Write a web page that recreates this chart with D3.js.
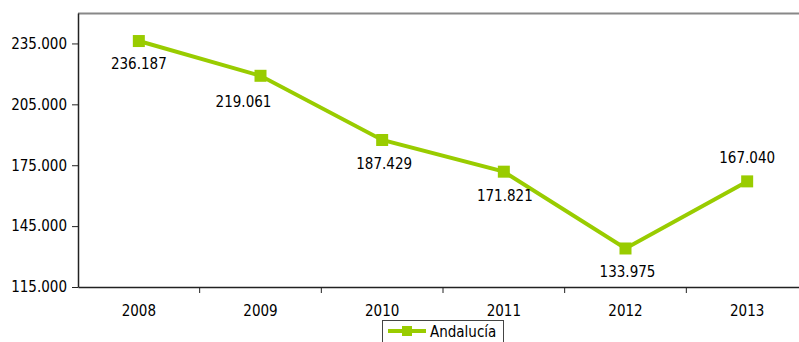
<!DOCTYPE html>
<html>
<head>
<meta charset="utf-8">
<script src="https://cdn.jsdelivr.net/npm/d3@7"></script>
<style>
  body { margin: 0; background: #fff; }
  svg { display: block; font-family: "DejaVu Sans Condensed", "DejaVu Sans", sans-serif; }
</style>
</head>
<body>
<svg id="chart" width="799" height="342"></svg>
<script>
// Data
const years = ["2008", "2009", "2010", "2011", "2012", "2013"];
const values = [236187, 219061, 187429, 171821, 133975, 167040];
const valueLabels = ["236.187", "219.061", "187.429", "171.821", "133.975", "167.040"];
const yTicks = [115000, 145000, 175000, 205000, 235000];
const seriesName = "Andalucía";

// Label placement (offsets from each point)
const labelDx = [0, -17, 2, 1, 2, 0];
const labelDy = [28, 31, 29, 29, 29, -18];

const color = "#99cc00";
const font = "DejaVu Sans Condensed";
const fontSize = 15;
const svg = d3.select("#chart");
const margin = { left: 78, top: 13, bottom: 287, right: 808 };

const x = d3.scaleBand().domain(years).range([margin.left, margin.right]);
const y = d3.scaleLinear().domain([115000, 250000]).range([margin.bottom, margin.top]);

// Top border of plot area
svg.append("line")
    .attr("x1", margin.left).attr("x2", 799)
    .attr("y1", margin.top + 0.5).attr("y2", margin.top + 0.5)
    .attr("stroke", "#888").attr("stroke-width", 2);

// Y axis
const yAxis = svg.append("g")
    .attr("transform", `translate(${margin.left},0)`)
    .call(d3.axisLeft(y).tickValues(yTicks).tickFormat(d => d3.format(".3f")(d / 1000)).tickSize(6).tickSizeOuter(0));
yAxis.select(".domain").attr("stroke", "#222").attr("stroke-width", 1.5);
yAxis.selectAll(".tick line").attr("stroke", "#222");
yAxis.selectAll(".tick text").attr("font-size", fontSize).attr("fill", "#000").attr("x", -11)
    .attr("font-family", font);

// X axis
const xAxis = svg.append("g")
    .attr("transform", `translate(0,${margin.bottom})`)
    .call(d3.axisBottom(x).tickSize(0).tickSizeOuter(0));
xAxis.select(".domain").attr("stroke", "#222").attr("stroke-width", 1.5);
xAxis.selectAll(".tick text").attr("font-size", fontSize).attr("fill", "#000").attr("dy", "1.75em")
    .attr("font-family", font);
// category separators
svg.append("g").selectAll("line")
    .data(years.slice(1))
    .join("line")
    .attr("x1", d => x(d)).attr("x2", d => x(d))
    .attr("y1", margin.bottom).attr("y2", margin.bottom + 6)
    .attr("stroke", "#222");

const cx = i => x(years[i]) + x.bandwidth() / 2;

// Line
svg.append("path")
    .datum(values)
    .attr("fill", "none")
    .attr("stroke", color)
    .attr("stroke-width", 4)
    .attr("d", d3.line().x((d, i) => cx(i)).y(d => y(d)));

// Markers
svg.append("g").selectAll("rect")
    .data(values)
    .join("rect")
    .attr("x", (d, i) => cx(i) - 6)
    .attr("y", d => y(d) - 6)
    .attr("width", 12).attr("height", 12)
    .attr("fill", color);

// Value labels
svg.append("g").selectAll("text")
    .data(values)
    .join("text")
    .attr("x", (d, i) => cx(i) + labelDx[i])
    .attr("y", (d, i) => y(d) + labelDy[i])
    .attr("text-anchor", "middle")
    .attr("font-size", fontSize)
    .attr("font-family", font)
    .attr("fill", "#000")
    .text((d, i) => valueLabels[i]);

// Legend
const lg = svg.append("g").attr("transform", "translate(382,320)");
lg.append("rect")
    .attr("x", 0.5).attr("y", 0.5)
    .attr("width", 121).attr("height", 30)
    .attr("fill", "#fff").attr("stroke", "#444");
lg.append("line")
    .attr("x1", 6).attr("x2", 44).attr("y1", 11).attr("y2", 11)
    .attr("stroke", color).attr("stroke-width", 4);
lg.append("rect")
    .attr("x", 20).attr("y", 6).attr("width", 10).attr("height", 10)
    .attr("fill", color);
lg.append("text")
    .attr("x", 48).attr("y", 17)
    .attr("font-size", fontSize)
    .attr("font-family", font)
    .attr("fill", "#000")
    .text(seriesName);
</script>
</body>
</html>
